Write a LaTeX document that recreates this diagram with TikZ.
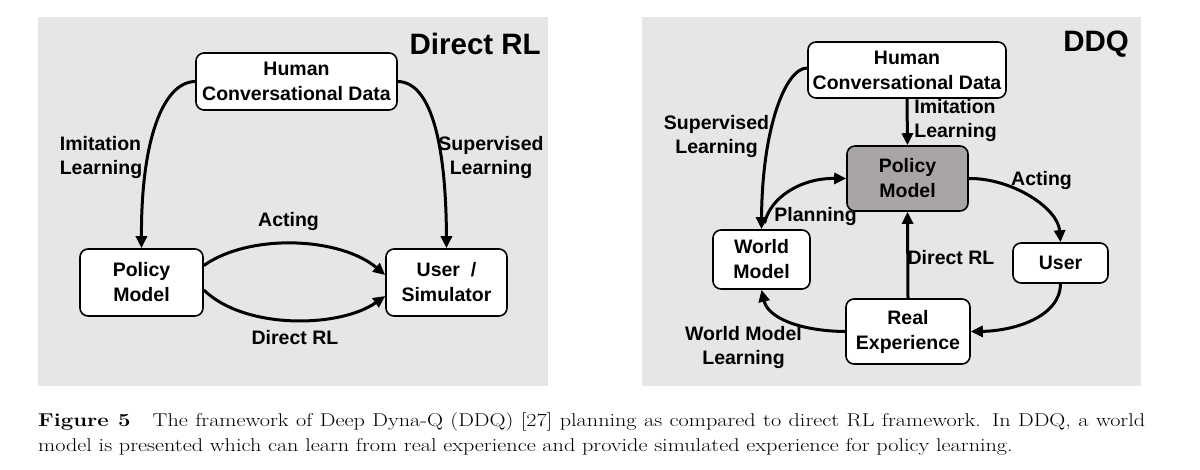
\documentclass[tikz,border=0pt]{standalone}
\usepackage{fontspec}
\newfontfamily\dsans{Liberation Sans}
\usetikzlibrary{arrows.meta}
\definecolor{panel}{HTML}{E6E6E6}
\definecolor{pfill}{HTML}{A9A5A5}
\tikzset{
  box/.style={draw=black, line width=1.6pt, rounded corners=8pt, fill=white, inner sep=0pt, align=center,
    font=\dsans\bfseries\fontsize{19.5}{25}\selectfont},
  lab/.style={inner sep=0pt, align=center, font=\dsans\bfseries\fontsize{19.5}{24}\selectfont},
  arr/.style={line width=3pt, -{Triangle[length=12pt,width=11pt]}},
  title/.style={inner sep=0pt, font=\dsans\bfseries\fontsize{29.5}{30}\selectfont}
}
\begin{document}
\begin{tikzpicture}[x=1pt,y=-1pt]
\useasboundingbox (0,0) rectangle (1200,469);
\fill[white] (0,0) rectangle (1200,469);
\fill[panel] (38,17) rectangle (548,386);
\fill[panel] (642,17) rectangle (1141,386);

% ---------- left panel ----------
\node[title, anchor=east] (tl) at (541,44) {Direct RL};
\node[box, minimum width=201pt, minimum height=57pt] (hl) at (296.5,81.5) {Human\\Conversational Data};
\node[box, minimum width=123pt, minimum height=67pt] (pl) at (141.5,282.5) {Policy\\Model};
\node[box, minimum width=121pt, minimum height=67pt] (ul) at (446.5,282.5) {User~~/\\Simulator};

\draw[arr] (hl.west) .. controls (163,82) and (141,140) .. (pl.north);
\draw[arr] (hl.east) .. controls (430,82) and (446,140) .. (ul.north);
\draw[arr] ([yshift=17pt]pl.east) .. controls (250,233) and (340,237) .. ([yshift=7.5pt]ul.west);
\draw[arr] ([yshift=-7.5pt]pl.east) .. controls (245,330) and (340,328) .. ([yshift=-13.5pt]ul.west);

\node[lab, align=left] (lim) at (101,157.5) {Imitation\\Learning};
\node[lab] (lsup) at (491,157.5) {Supervised\\Learning};
\node[lab] (lact) at (288.5,221) {Acting};
\node[lab] (ldrl) at (295,338) {Direct RL};

% ---------- right panel ----------
\node[title, anchor=east] (tr) at (1129,44) {DDQ};
\node[box, minimum width=198pt, minimum height=56pt] (hr) at (907,70) {Human\\Conversational Data};
\node[box, fill=pfill, minimum width=121pt, minimum height=65pt] (pr) at (907.5,178.5) {Policy\\Model};
\node[box, minimum width=97pt, minimum height=59pt] (wr) at (761.5,259.5) {World\\Model};
\node[box, minimum width=95pt, minimum height=40pt] (ur) at (1060.5,263) {User};
\node[box, minimum width=124pt, minimum height=65pt] (rr) at (908,331.5) {Real\\Experience};

\draw[arr] (hr.south) -- (pr.north);
\draw[arr] ([yshift=2pt]hr.west) .. controls (785,68) and (762,130) .. (wr.north);
\draw[arr] ([xshift=3pt,yshift=6pt]wr.north) .. controls (770,198) and (800,178) .. (pr.west);
\draw[arr] (pr.east) .. controls (1012,178) and (1058,208) .. (ur.north);
\draw[arr] (rr.north) -- (pr.south);
\draw[arr] (ur.south) .. controls (1060,318) and (1012,331) .. (rr.east);
\draw[arr] (rr.west) .. controls (800,331) and (768,318) .. (wr.south);

\node[lab, align=left] (rim) at (955.5,120) {Imitation\\Learning};
\node[lab] (rsup) at (716.5,136) {Supervised\\Learning};
\node[lab] (rplan) at (815.5,216) {Planning};
\node[lab] (ract) at (1041.5,180) {Acting};
\node[lab] (rdrl) at (951,258) {Direct RL};
\node[lab] (rwml) at (743.5,347) {World Model\\Learning};

% ---------- caption ----------
\node[anchor=base west, inner sep=0pt] (cap) at (38,426)
 {\scalebox{1.2}[1]{\parbox[t]{922.5pt}{\fontsize{18.5}{25}\selectfont\noindent\textbf{Figure 5}\quad The framework of Deep Dyna-Q (DDQ) [27] planning as compared to direct RL framework. In DDQ, a world\linebreak model is presented which can learn from real experience and provide simulated experience for policy learning.}}};
\end{tikzpicture}
\end{document}
